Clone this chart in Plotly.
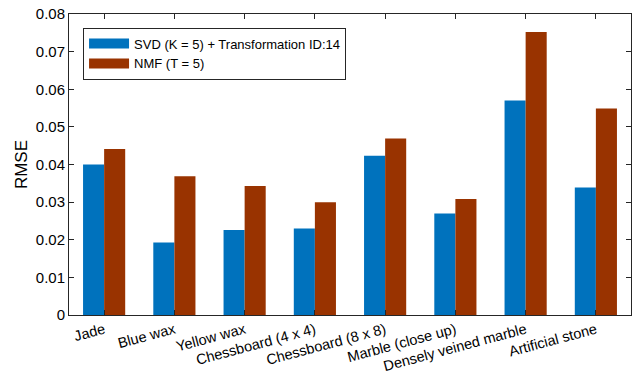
import plotly.graph_objects as go

categories = ["Jade", "Blue wax", "Yellow wax", "Chessboard (4 x 4)", "Chessboard (8 x 8)",
              "Marble (close up)", "Densely veined marble", "Artificial stone"]
svd_vals = [0.0400, 0.0193, 0.0226, 0.0230, 0.0423, 0.0270, 0.0570, 0.0339]
nmf_vals = [0.0441, 0.0369, 0.0343, 0.0300, 0.0469, 0.0308, 0.0752, 0.0549]
series_names = ["SVD (K = 5) + Transformation ID:14", "NMF (T = 5)"]
series_colors = ["#0072BD", "#993300"]
y_ticks = [0, 0.01, 0.02, 0.03, 0.04, 0.05, 0.06, 0.07, 0.08]

fig = go.Figure()
for vals, name, col in zip([svd_vals, nmf_vals], series_names, series_colors):
    fig.add_trace(go.Bar(x=categories, y=vals, name=name, showlegend=False,
                         marker=dict(color=col, line=dict(width=0))))
# legend entries drawn as wide rectangles (thick line swatches)
for name, col in zip(series_names, series_colors):
    fig.add_trace(go.Scatter(x=[None], y=[None], mode="lines", name=name,
                             line=dict(color=col, width=14), showlegend=True))

axis_col = "#262626"
fig.update_layout(
    width=632, height=373,
    margin=dict(l=69, r=1, t=14, b=58),
    paper_bgcolor="white", plot_bgcolor="white",
    barmode="group", bargap=0.4, bargroupgap=0,
    font=dict(family="Liberation Sans, Arial, sans-serif", size=15, color=axis_col),
    legend=dict(x=0.025, y=0.955, xanchor="left", yanchor="top",
                bordercolor=axis_col, borderwidth=1, bgcolor="white",
                font=dict(size=13, color="#000000"), tracegroupgap=0,
                itemwidth=40),
    showlegend=True,
)
fig.update_xaxes(showline=True, linecolor=axis_col, linewidth=1, mirror="ticks",
                 ticks="inside", ticklen=5, tickcolor=axis_col, tickangle=-15,
                 tickfont=dict(size=14.5, color="#000000"), showgrid=False,
                 automargin=False)
fig.update_yaxes(showline=True, linecolor=axis_col, linewidth=1, mirror="ticks",
                 ticks="inside", ticklen=5, tickcolor=axis_col,
                 range=[0, 0.08], tickvals=y_ticks,
                 ticktext=["0" if v == 0 else f"{v:.2f}" for v in y_ticks],
                 tickfont=dict(size=15, color="#000000"), showgrid=False, zeroline=False,
                 automargin=False,
                 title=dict(text="RMSE", font=dict(size=17, color="#000000"), standoff=3))

fig.write_html("out.html")
